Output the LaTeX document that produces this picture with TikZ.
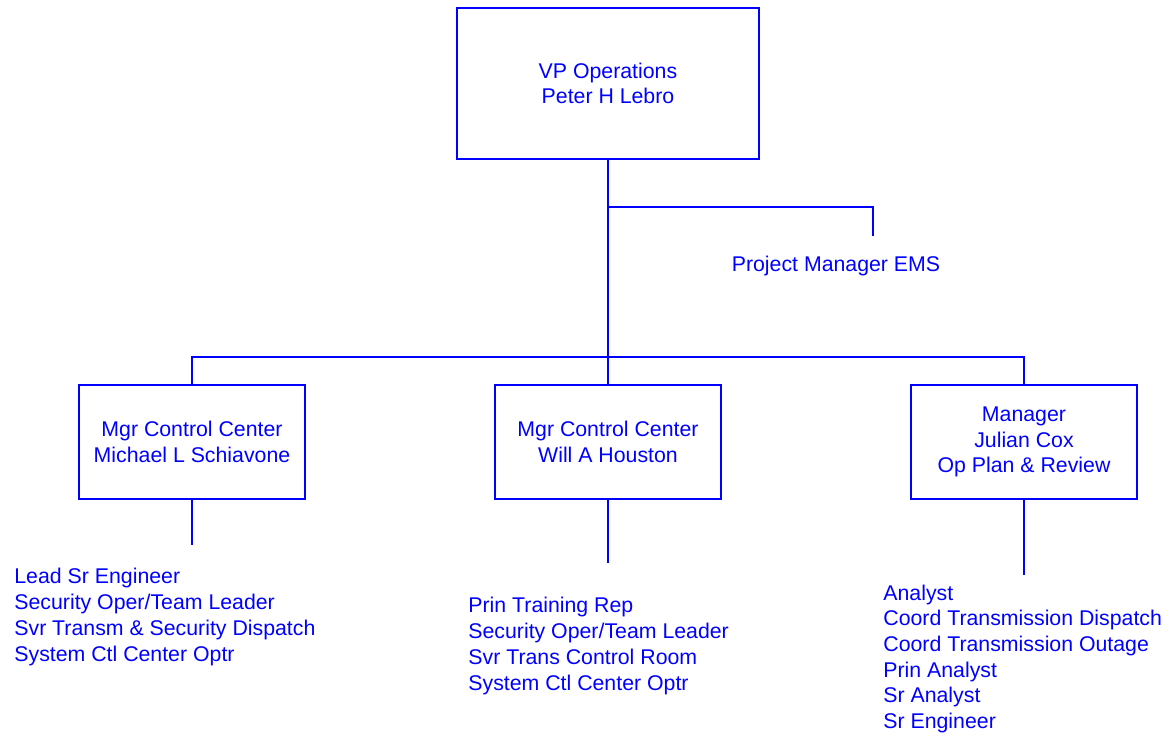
\documentclass[tikz,border=0pt]{standalone}
\usepackage{fontspec}
\setmainfont{Liberation Sans}
\usepackage{tikz}
\usetikzlibrary{calc}
\definecolor{org_blue}{RGB}{0,0,255}

\tikzset{
    orgbox/.style={draw=org_blue, line width=1pt, rectangle, align=center, text=org_blue, inner sep=0pt},
    orglist/.style={align=left, text=org_blue, inner sep=0pt, anchor=base west},
    orgline/.style={draw=org_blue, line width=1pt}
}

\begin{document}
\begin{tikzpicture}[x=0.5pt, y=-0.5pt, font=\fontsize{10.65}{12.85}\selectfont]
    \useasboundingbox (0,0) rectangle (1169,736);
    % Boxes
    \node[orgbox, minimum width=151pt, minimum height=75.5pt] (vp) at (608,83.5) {VP Operations\\Peter H Lebro};
    \node[orgbox, minimum width=113pt, minimum height=57pt] (mgrA) at (192,442) {Mgr Control Center\\Michael L Schiavone};
    \node[orgbox, minimum width=113pt, minimum height=57pt] (mgrB) at (608,442) {Mgr Control Center\\Will A Houston};
    \node[orgbox, minimum width=113pt, minimum height=57pt] (mgrC) at (1024,442) {Manager\\Julian Cox\\Op Plan \& Review};
    % Staff (base = last line)
    \node[text=org_blue, inner sep=0pt, anchor=base] (pm) at (836,271) {Project Manager EMS};
    \node[orglist] (staffA) at (14,661) {Lead Sr Engineer\\Security Oper/Team Leader\\Svr Transm \& Security Dispatch\\System Ctl Center Optr};
    \node[orglist] (staffB) at (468,690) {Prin Training Rep\\Security Oper/Team Leader\\Svr Trans Control Room\\System Ctl Center Optr};
    \node[orglist] (staffC) at (883,728.5) {Analyst\\Coord Transmission Dispatch\\Coord Transmission Outage\\Prin Analyst\\Sr Analyst\\Sr Engineer};
    % Connectors
    \coordinate (pmJoin) at (608,207);
    \coordinate (pmEnd) at (873,236);
    \coordinate (busL) at (192,357);
    \coordinate (busR) at (1024,357);
    \coordinate (endA) at (192,545);
    \coordinate (endB) at (608,563);
    \coordinate (endC) at (1024,575);
    \draw[orgline] (vp.south) -- (mgrB.north);
    \draw[orgline] (pmJoin) -| (pmEnd);
    \draw[orgline] (mgrA.north) -- (busL) -- (busR) -- (mgrC.north);
    \draw[orgline] (mgrA.south) -- (endA);
    \draw[orgline] (mgrB.south) -- (endB);
    \draw[orgline] (mgrC.south) -- (endC);
\end{tikzpicture}
\end{document}
